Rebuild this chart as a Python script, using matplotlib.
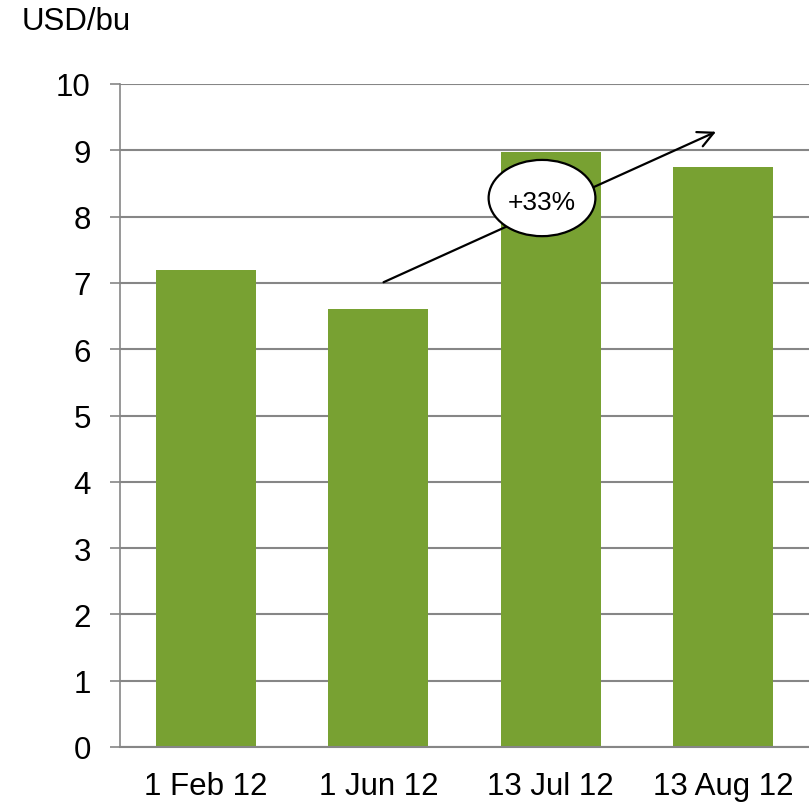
import matplotlib.pyplot as plt
from matplotlib.patches import Ellipse

plt.rcParams['font.family'] = ['Liberation Sans', 'DejaVu Sans']

# data
dates = ["1 Feb 12", "1 Jun 12", "13 Jul 12", "13 Aug 12"]
prices = [7.2, 6.6, 8.97, 8.75]
y_ticks = list(range(0, 11))

fig = plt.figure(figsize=(8.09, 8.04), dpi=100)
ax = fig.add_axes([120 / 809, 56 / 804, 689 / 809, 663 / 804])

x = range(len(dates))
ax.bar(x, prices, width=0.58, color="#78A132", zorder=2)

ax.set_xlim(-0.5, 3.5)
ax.set_ylim(0, 10)
ax.set_yticks(y_ticks)
ax.set_xticks(list(x))
ax.set_xticklabels(dates, fontsize=22.5)
ax.tick_params(axis="y", labelsize=22.5, length=7, width=1.2, color="#868686", pad=14)
ax.tick_params(axis="x", length=0, pad=17)
ax.yaxis.grid(True, color="#868686", linewidth=1.5, zorder=0)
ax.set_axisbelow(True)

for side in ["top", "right"]:
    ax.spines[side].set_visible(False)
ax.spines["left"].set_color("#868686")
ax.spines["left"].set_linewidth(1.2)
ax.spines["bottom"].set_color("#868686")
ax.spines["bottom"].set_linewidth(1.5)

# growth arrow
ax.annotate("", xy=(2.96, 9.28), xytext=(1.03, 7.01),
            arrowprops=dict(arrowstyle="->", color="black", lw=1.6,
                            mutation_scale=28, shrinkA=0, shrinkB=0),
            zorder=4)
ell = Ellipse((1.95, 8.28), 0.62, 1.15, facecolor="white", edgecolor="black",
              linewidth=1.6, zorder=5)
ax.add_patch(ell)
ax.text(1.95, 8.22, "+33%", ha="center", va="center", fontsize=19, zorder=6)

fig.text(22 / 809, 1 - 30 / 804, "USD/bu", fontsize=22.5, ha="left", va="baseline")

fig.savefig("out.png", dpi=100)
